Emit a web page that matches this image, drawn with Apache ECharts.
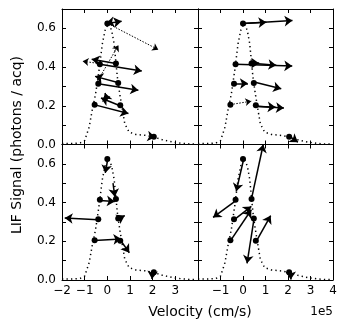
<!DOCTYPE html>
<html><head><meta charset="utf-8">
<script src="https://cdn.jsdelivr.net/npm/echarts@6/dist/echarts.min.js"></script>
<style>html,body{margin:0;padding:0;background:#fff}#c{width:349px;height:329px}</style>
</head><body><div id="c"></div>
<script>
// Dotted LIF profile (velocity in units of 1e5 cm/s)
const curveX = [-2.0, -1.8, -1.6, -1.4, -1.2, -1.0, -0.8, -0.67, -0.52, -0.37, -0.22, -0.1, 0.05, 0.19, 0.3, 0.37, 0.44, 0.55, 0.67, 0.77, 0.96, 1.26, 1.7, 2.07, 2.44, 2.9, 3.3, 3.6, 3.9];
const curveY = [0.005, 0.005, 0.005, 0.006, 0.008, 0.02, 0.09, 0.176, 0.26, 0.38, 0.52, 0.59, 0.625, 0.59, 0.52, 0.435, 0.35, 0.26, 0.176, 0.107, 0.064, 0.052, 0.047, 0.038, 0.024, 0.012, 0.006, 0.003, 0.002];

// Measured points (dots)
const dotsX = [0.0, -0.33, 0.38, -0.4, 0.48, -0.56, 0.57, 2.05];
const dotsY = [0.625, 0.415, 0.418, 0.314, 0.318, 0.205, 0.203, 0.04];

// Arrows [x0, y0, x1, y1]
const arrowsTL = [
  [0.0, 0.625, 0.63, 0.637], [0.2, 0.632, -0.05, 0.627],
  [-0.33, 0.415, 1.52, 0.38], [0.38, 0.418, -0.69, 0.44],
  [-0.4, 0.314, 1.37, 0.28], [0.46, 0.32, -0.54, 0.352],
  [-0.59, 0.206, 0.93, 0.16], [0.56, 0.2, -0.28, 0.24],
  [0.0, 0.225, -0.1, 0.266], [1.9, 0.042, 2.12, 0.038]
];
const dottedTL = [
  [0.02, 0.625, 2.25, 0.49], [-0.44, 0.326, 0.49, 0.513], [-0.33, 0.418, -1.09, 0.43]
];
const arrowsTR = [
  [0.0, 0.625, 2.2, 0.64], [0.0, 0.625, 1.04, 0.632],
  [-0.33, 0.415, 2.19, 0.405], [0.41, 0.42, 1.48, 0.41], [0.41, 0.42, 0.72, 0.42],
  [-0.4, 0.314, 0.22, 0.316], [0.49, 0.323, 1.7, 0.288],
  [0.55, 0.198, 1.82, 0.188], [0.55, 0.198, 1.45, 0.192],
  [2.12, 0.038, 2.44, 0.012]
];
const dottedTR = [[-0.56, 0.206, 0.37, 0.224]];
const arrowsBL = [
  [0.02, 0.625, -0.09, 0.553], [-0.34, 0.411, 0.33, 0.406], [0.25, 0.5, 0.33, 0.43],
  [-0.41, 0.311, -1.88, 0.32], [0.47, 0.314, 0.77, 0.333],
  [-0.57, 0.204, 0.62, 0.212], [0.57, 0.207, 0.97, 0.141], [2.0, 0.045, 1.97, 0.005]
];
const dottedBL = [];
const arrowsBR = [
  [0.03, 0.625, -0.3, 0.458], [-0.3, 0.411, -1.33, 0.323], [0.37, 0.415, 0.9, 0.70],
  [-0.4, 0.311, 0.37, 0.38], [0.49, 0.316, 0.18, 0.086], [-0.56, 0.202, 0.37, 0.363],
  [0.59, 0.199, 1.23, 0.333], [2.12, 0.04, 2.12, 0.003]
];
const dottedBR = [];

const xTicks = [-2, -1, 0, 1, 2, 3, 4];
const yTicks = [0.0, 0.2, 0.4, 0.6];

const panels = [
  {grid: {left: 62, top: 9, width: 136, height: 135.5}, arrows: arrowsTL, dotted: dottedTL, xl: null, yl: true},
  {grid: {left: 198, top: 9, width: 135, height: 135.5}, arrows: arrowsTR, dotted: dottedTR, xl: null, yl: false},
  {grid: {left: 62, top: 144.5, width: 136, height: 135.5}, arrows: arrowsBL, dotted: dottedBL, xl: [-2, -1, 0, 1, 2, 3], yl: true},
  {grid: {left: 198, top: 144.5, width: 135, height: 135.5}, arrows: arrowsBR, dotted: dottedBR, xl: [-1, 0, 1, 2, 3, 4], yl: false}
];

const FONT = 'DejaVu Sans';
const grids = [], xAxes = [], yAxes = [], series = [];
const lineBase = {color: '#000', width: 1};
const fmtX = v => (v < 0 ? '\u2212' + Math.abs(v) : String(v));

panels.forEach((p, i) => {
  grids.push(Object.assign({outerBoundsMode: 'none', containLabel: false}, p.grid));
  ['bottom', 'top'].forEach(pos => {
    const showL = pos === 'bottom' && p.xl;
    xAxes.push({
      type: 'value', gridIndex: i, position: pos, min: -2, max: 4, interval: 1,
      axisLine: {show: true, onZero: false, lineStyle: lineBase},
      axisTick: {show: true, inside: true, length: 4, lineStyle: lineBase},
      splitLine: {show: false},
      axisLabel: {
        show: !!showL, margin: 5, color: '#000', fontFamily: FONT, fontSize: 12,
        showMinLabel: true, showMaxLabel: true,
        formatter: v => (showL && p.xl.some(t => Math.abs(t - v) < 1e-6) ? fmtX(Math.round(v)) : '')
      }
    });
  });
  ['left', 'right'].forEach(pos => {
    const showL = pos === 'left' && p.yl;
    yAxes.push({
      type: 'value', gridIndex: i, position: pos, min: 0, max: 0.7, interval: 0.1,
      axisLine: {show: true, onZero: false, lineStyle: lineBase},
      axisTick: {show: true, inside: true, length: 4, lineStyle: lineBase},
      splitLine: {show: false},
      axisLabel: {
        show: !!showL, margin: 6, color: '#000', fontFamily: FONT, fontSize: 12,
        showMinLabel: true, showMaxLabel: true,
        formatter: v => {
          const hit = yTicks.find(t => Math.abs(t - v) < 1e-6);
          return hit === undefined ? '' : hit.toFixed(1);
        }
      }
    });
  });
  const xi = 2 * i, yi = 2 * i;
  series.push({
    type: 'line', xAxisIndex: xi, yAxisIndex: yi, showSymbol: false, symbol: 'none', silent: true,
    data: curveX.map((x, k) => [x, curveY[k]]),
    lineStyle: {color: '#000', width: 1.5, type: [1.3, 3.2]}, z: 2
  });
  const toLines = arr => arr.map(a => ({coords: [[a[0], a[1]], [a[2], a[3]]]}));
  series.push({
    type: 'lines', coordinateSystem: 'cartesian2d', xAxisIndex: xi, yAxisIndex: yi, silent: true,
    data: toLines(p.arrows), symbol: ['none', 'arrow'], symbolSize: [6, 8],
    lineStyle: {color: '#000', width: 1.5, opacity: 1, curveness: 0}, z: 3
  });
  if (p.dotted.length) {
    series.push({
      type: 'lines', coordinateSystem: 'cartesian2d', xAxisIndex: xi, yAxisIndex: yi, silent: true,
      data: toLines(p.dotted), symbol: ['none', 'arrow'], symbolSize: [5, 6],
      lineStyle: {color: '#000', width: 1, opacity: 1, curveness: 0, type: [1.5, 1.5]}, z: 3
    });
  }
  series.push({
    type: 'scatter', xAxisIndex: xi, yAxisIndex: yi, silent: true, symbolSize: 6,
    itemStyle: {color: '#000', opacity: 1}, data: dotsX.map((x, k) => [x, dotsY[k]]), z: 4
  });
});

const chart = echarts.init(document.getElementById('c'), null, {renderer: 'canvas'});
chart.setOption({
  animation: false,
  backgroundColor: '#fff',
  grid: grids, xAxis: xAxes, yAxis: yAxes, series: series,
  graphic: [
    {type: 'text', x: 200, y: 312, style: {text: 'Velocity (cm/s)', font: '14px "DejaVu Sans"', fill: '#000', align: 'center', verticalAlign: 'middle'}},
    {type: 'text', x: 333, y: 312, style: {text: '1e5', font: '12px "DejaVu Sans"', fill: '#000', align: 'right', verticalAlign: 'middle'}},
    {type: 'text', x: 17, y: 145, rotation: Math.PI / 2, style: {text: 'LIF Signal (photons / acq)', font: '14px "DejaVu Sans"', fill: '#000', align: 'center', verticalAlign: 'middle'}}
  ]
});
</script>
</body></html>
